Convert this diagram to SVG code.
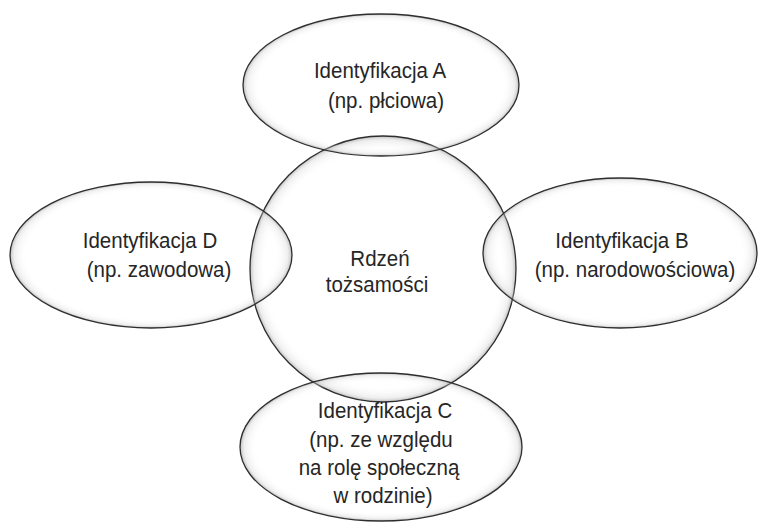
<svg xmlns="http://www.w3.org/2000/svg" width="760" height="522" viewBox="0 0 760 522">
<defs>
<radialGradient id="glow" cx="0.5" cy="0.5" r="0.5">
<stop offset="0.88" stop-color="#ffffff" stop-opacity="0"/>
<stop offset="0.97" stop-color="#d0d0d0" stop-opacity="0.35"/>
<stop offset="1" stop-color="#909090" stop-opacity="0.6"/>
</radialGradient>
</defs>
<style>
.shape{fill:url(#glow);stroke:#2e2e2e;stroke-width:1.3}
.t{font-family:"Liberation Sans",Arial,sans-serif;font-size:20.5px;fill:#262626;text-anchor:middle}
</style>
<rect width="760" height="522" fill="#ffffff"/>
<g id="connectors"></g>
<g id="core">
<circle class="shape" cx="383" cy="269" r="133"/>
</g>
<g id="identA">
<ellipse class="shape" cx="381" cy="85" rx="138" ry="71"/>
</g>
<g id="identD">
<ellipse class="shape" cx="151" cy="255" rx="141" ry="73"/>
</g>
<g id="identB">
<ellipse class="shape" cx="620" cy="253" rx="137" ry="75"/>
</g>
<g id="identC">
<ellipse class="shape" cx="381" cy="447" rx="141" ry="74"/>
</g>
<g id="labels">
<text class="t" x="380" y="78" transform="matrix(1 0 0 1.08 0 -6.24)">Identyfikacja A</text>
<text class="t" x="386" y="108" transform="matrix(1 0 0 1.08 0 -8.64)">(np. płciowa)</text>
<text class="t" x="380" y="266" transform="matrix(1 0 0 1.08 0 -21.28)">Rdzeń</text>
<text class="t" x="377" y="292" transform="matrix(1 0 0 1.08 0 -23.36)">tożsamości</text>
<text class="t" x="150" y="248" transform="matrix(1 0 0 1.08 0 -19.84)">Identyfikacja D</text>
<text class="t" x="159" y="277" transform="matrix(1 0 0 1.08 0 -22.16)">(np. zawodowa)</text>
<text class="t" x="622" y="248" transform="matrix(1 0 0 1.08 0 -19.84)">Identyfikacja B</text>
<text class="t" x="635" y="277" transform="matrix(1 0 0 1.08 0 -22.16)">(np. narodowościowa)</text>
<text class="t" x="385" y="418" transform="matrix(1 0 0 1.08 0 -33.44)">Identyfikacja C</text>
<text class="t" x="381" y="447" transform="matrix(1 0 0 1.08 0 -35.76)">(np. ze względu</text>
<text class="t" x="379" y="475" transform="matrix(1 0 0 1.08 0 -38)">na rolę społeczną</text>
<text class="t" x="383" y="503" transform="matrix(1 0 0 1.08 0 -40.24)">w rodzinie)</text>
</g>
</svg>
